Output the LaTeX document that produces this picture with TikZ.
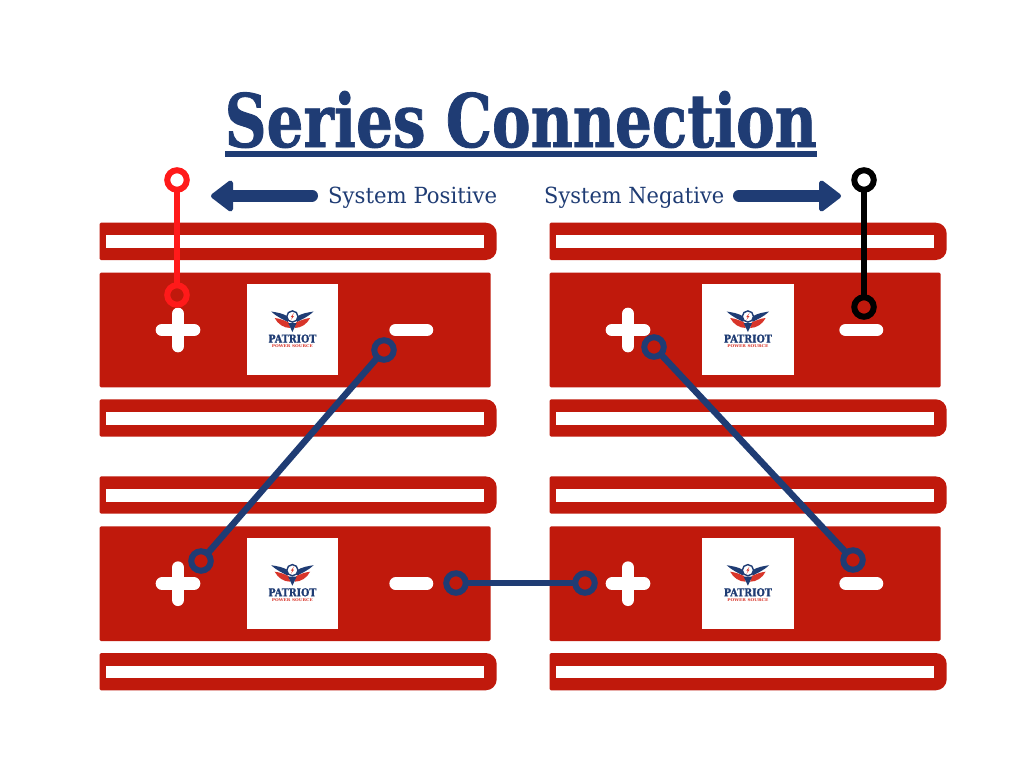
\documentclass[tikz,border=0pt]{standalone}
\usepackage{fontspec}
\setmainfont{DejaVu Serif}
\definecolor{batred}{HTML}{C0190C}
\definecolor{navy}{HTML}{1F3C74}
\definecolor{posred}{HTML}{FF1A1A}
\definecolor{logored}{HTML}{D8352A}
\tikzset{
  ring/.style={circle,draw=#1,line width=6pt,minimum size=19.5pt,inner sep=0pt,outer sep=0pt},
  wire/.style={draw=#1,line width=6.5pt},
  signbar/.style={draw=white,line width=12.7pt,line cap=round},
  bigarrow/.style={fill=navy,draw=navy,line width=5pt,line join=round},
  labeltext/.style={text=navy,inner sep=0pt,anchor=base west},
  strip/.pic={
    \fill[batred] (1.5,0) -- (386.2,0) arc[start angle=90,end angle=0,radius=11pt]
      -- (397.2,26.3) arc[start angle=0,end angle=-90,radius=11pt]
      -- (1.5,37.3) arc[start angle=270,end angle=180,radius=1.5pt]
      -- (0,1.5) arc[start angle=180,end angle=90,radius=1.5pt] -- cycle;
    \fill[white] (6,12.6) rectangle (384.5,25.3);
  },
  battery/.pic={
    \pic at (0,0) {strip};
    \fill[batred,rounded corners=1.5pt] (0,50) rectangle (391.2,164.6);
    \pic at (0,176.6) {strip};
    \draw[signbar] (62.5,107.3) -- (94.5,107.3)
      (78.5,91.3) -- (78.5,123.3);
    \draw[signbar] (296.2,107.3) -- (327.4,107.3);
  },
  logo/.pic={
    \fill[white] (0,0) rectangle (91.6,91.3);
    \fill[navy] (24.5,27.5) .. controls (31,33.5) and (36,35) .. (41,38) -- (42,33) .. controls (36,29) and (30,28.5) .. cycle;
    \fill[navy] (66.9,27.5) .. controls (60.4,33.5) and (55.4,35) .. (50.4,38) -- (49.4,33) .. controls (55.4,29) and (61.4,28.5) .. cycle;
    \fill[logored] (28,34) .. controls (33,34.5) and (38,36.5) .. (42,38.5) -- (43.5,44) .. controls (37,44) and (31,40) .. cycle;
    \fill[logored] (63.4,34) .. controls (58.4,34.5) and (53.4,36.5) .. (49.4,38.5) -- (47.9,44) .. controls (54.4,44) and (60.4,40) .. cycle;
    \fill[navy] (41.5,39) -- (49.9,39) -- (45.7,48) -- cycle;
    \draw[navy,fill=white,line width=1.4pt] (45.7,32.5) circle (5.6pt);
    \fill[logored] (47.2,29) -- (44.1,33) -- (45.7,33) -- (44.2,36) -- (47.3,32) -- (45.7,32) -- cycle;
    \node[inner sep=0pt,text=navy] (brand) at (45.7,54.6) {\resizebox{48pt}{8pt}{\addfontfeature{FakeBold=1}\bfseries PATRIOT}};
    \node[inner sep=0pt,text=logored] (sub) at (45.7,62) {\resizebox{41pt}{2.8pt}{\bfseries POWER SOURCE}};
  }
}
\begin{document}
\begin{tikzpicture}[x=1pt,y=-1pt]
\useasboundingbox (0,0) rectangle (1024,768);
\fill[white] (0,0) rectangle (1024,768);
% batteries
\pic at (99.5,222.7) {battery};
\pic at (549.5,222.7) {battery};
\pic at (99.5,476.4) {battery};
\pic at (549.5,476.4) {battery};
\pic at (246.7,284) {logo};
\pic at (702.2,284) {logo};
\pic at (246.7,537.7) {logo};
\pic at (702.2,537.7) {logo};
% title
\node[inner sep=0pt,anchor=base west,text=navy] (title) at (224.5,147) {\resizebox{592pt}{56pt}{\addfontfeature{FakeBold=1.2}\bfseries Series Connection}};
\fill[navy] (224.5,151.3) rectangle (817,157.3);
% labels
\node[labeltext] (pos) at (328,203) {\resizebox{169pt}{16.5pt}{System Positive}};
\node[labeltext] (neg) at (544,203) {\resizebox{180pt}{16.5pt}{System Negative}};
% arrows
\coordinate (posS) at (312,195.5);
\coordinate (negS) at (739,195.5);
\draw[navy,line width=12pt,line cap=round] (posS) -- (232,195.5);
\draw[bigarrow] (213.5,196) -- (230.5,183) -- (230.5,209) -- cycle;
\draw[navy,line width=12pt,line cap=round] (negS) -- (820,195.5);
\draw[bigarrow] (838.5,196) -- (821.5,183) -- (821.5,209) -- cycle;
% terminals
\node[ring=posred] (r1) at (177,180) {};
\node[ring=posred] (r2) at (177,295) {};
\node[ring=black] (k1) at (864,180) {};
\node[ring=black] (k2) at (864,307) {};
\node[ring=navy] (a1) at (384,350) {};
\node[ring=navy] (a2) at (201,561) {};
\node[ring=navy] (b1) at (654,347) {};
\node[ring=navy] (b2) at (853,560) {};
\node[ring=navy] (c1) at (456,583) {};
\node[ring=navy] (c2) at (585,583) {};
\draw[wire=posred] (r1) -- (r2);
\draw[wire=black] (k1) -- (k2);
\draw[wire=navy] (a1) -- (a2);
\draw[wire=navy] (b1) -- (b2);
\draw[wire=navy] (c1) -- (c2);
\end{tikzpicture}
\end{document}
